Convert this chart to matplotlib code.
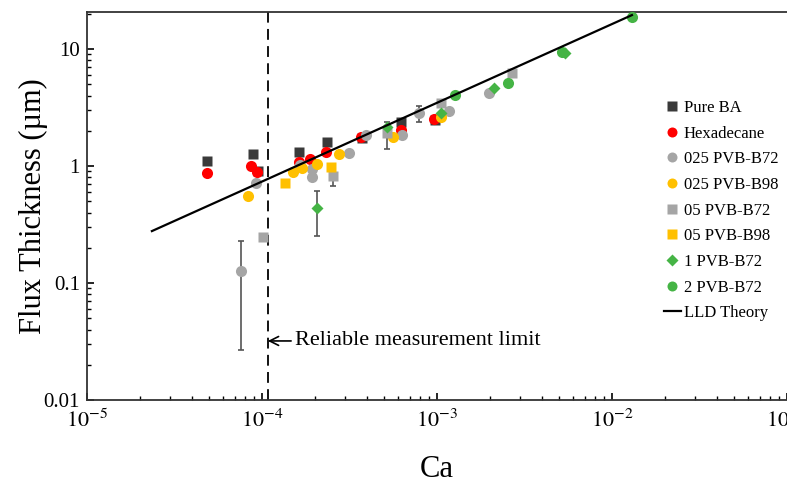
import matplotlib
matplotlib.use("Agg")
import matplotlib.pyplot as plt
from matplotlib.ticker import FixedLocator, FuncFormatter, LogLocator, NullFormatter
import numpy as np

plt.rcParams['font.family'] = ['Liberation Serif', 'DejaVu Serif']
plt.rcParams['mathtext.fontset'] = 'stix'

# ---- data ----
pure_ba_ca = [4.85e-5, 8.9e-5, 9.5e-5, 1.63e-4, 2.34e-4, 3.75e-4, 6.2e-4, 9.7e-4]
pure_ba_h = [1.10, 1.27, 0.90, 1.32, 1.61, 1.72, 2.39, 2.48]

hexa_ca = [4.85e-5, 8.7e-5, 9.4e-5, 1.63e-4, 1.88e-4, 2.32e-4, 3.7e-4, 6.2e-4, 9.66e-4]
hexa_h = [0.87, 1.00, 0.89, 1.09, 1.14, 1.32, 1.76, 2.03, 2.51]

g025_b72_ca = [7.58e-5, 9.2e-5, 1.65e-4, 1.94e-4, 1.94e-4, 3.14e-4, 3.93e-4, 6.3e-4, 7.9e-4, 1.17e-3, 1.99e-3]
g025_b72_h = [0.127, 0.71, 1.02, 0.94, 0.80, 1.28, 1.84, 1.84, 2.82, 2.97, 4.24]
g025_b72_err = [0.10, 0, 0, 0, 0, 0, 0, 0, 0.45, 0, 0]

y025_b98_ca = [8.3e-5, 1.5e-4, 1.69e-4, 2.07e-4, 2.77e-4, 5.6e-4, 1.05e-3]
y025_b98_h = [0.557, 0.89, 0.97, 1.05, 1.26, 1.76, 2.61]

g05_b72_ca = [1.01e-4, 2.56e-4, 5.2e-4, 1.05e-3, 2.67e-3]
g05_b72_h = [0.246, 0.82, 1.90, 3.43, 6.2]
g05_b72_err = [0, 0.15, 0.50, 0, 0]

y05_b98_ca = [1.35e-4, 2.47e-4]
y05_b98_h = [0.72, 0.99]

g1_b72_ca = [2.07e-4, 5.2e-4, 1.05e-3, 2.12e-3, 5.38e-3]
g1_b72_h = [0.434, 2.17, 2.82, 4.61, 9.2]
g1_b72_err = [0.18, 0, 0, 0, 0]

g2_b72_ca = [1.26e-3, 2.53e-3, 5.17e-3, 1.3e-2]
g2_b72_h = [4.05, 5.09, 9.37, 18.9]

lld_ca = [2.35e-5, 1.3e-2]
lld_h = [0.278, 19.5]

limit_ca = 1.08e-4

x_ticks = [1e-5, 1e-4, 1e-3, 1e-2, 1e-1]
y_ticks = [0.01, 0.1, 1, 10]
y_tick_labels = ['0.01', '0.1', '1', '10']

# ---- figure ----
fig = plt.figure(figsize=(7.87, 4.82), dpi=100)
ax = fig.add_axes([0.1105, 0.170, 0.8895, 0.805])
ax.set_xscale('log')
ax.set_yscale('log')
ax.set_xlim(1e-5, 1e-1)
ax.set_ylim(0.01, 20.7)

dark = '#3a3a3a'
red = '#ff0000'
gray = '#a5a5a5'
yellow = '#ffc000'
green = '#45b445'
errc = '#555555'

def errs(ca, h, e):
    idx = [i for i, v in enumerate(e) if v > 0]
    if idx:
        ax.errorbar([ca[i] for i in idx], [h[i] for i in idx], yerr=[e[i] for i in idx],
                    fmt='none', ecolor=errc, elinewidth=1.2, capsize=2.5, capthick=1.2, zorder=2)

errs(g025_b72_ca, g025_b72_h, g025_b72_err)
errs(g05_b72_ca, g05_b72_h, g05_b72_err)
errs(g1_b72_ca, g1_b72_h, g1_b72_err)

ms = 8
ax.plot(pure_ba_ca, pure_ba_h, 's', color=dark, ms=ms - 0.5, mec='none', label='Pure BA', zorder=3)
ax.plot(hexa_ca, hexa_h, 'o', color=red, ms=ms, mec='none', label='Hexadecane', zorder=3)
ax.plot(g025_b72_ca, g025_b72_h, 'o', color=gray, ms=ms, mec='none', label='025 PVB-B72', zorder=3)
ax.plot(y025_b98_ca, y025_b98_h, 'o', color=yellow, ms=ms, mec='none', label='025 PVB-B98', zorder=3)
ax.plot(g05_b72_ca, g05_b72_h, 's', color=gray, ms=ms - 0.5, mec='none', label='05 PVB-B72', zorder=3)
ax.plot(y05_b98_ca, y05_b98_h, 's', color=yellow, ms=ms - 0.5, mec='none', label='05 PVB-B98', zorder=3)
ax.plot(g1_b72_ca, g1_b72_h, 'D', color=green, ms=ms - 1.5, mec='none', label='1 PVB-B72', zorder=3)
ax.plot(g2_b72_ca, g2_b72_h, 'o', color=green, ms=ms, mec='none', label='2 PVB-B72', zorder=3)
ax.plot(lld_ca, lld_h, '-', color='black', lw=1.6, label='LLD Theory', zorder=4)

ax.axvline(limit_ca, color='black', lw=1.3, ls=(0, (6, 3.5)), zorder=1)
ax.annotate('Reliable measurement limit', xy=(limit_ca, 0.032), xytext=(1.55e-4, 0.032),
            fontsize=16, va='center', ha='left',
            arrowprops=dict(arrowstyle='->', color='black', lw=1.2, shrinkA=1, shrinkB=0))

# ticks
ax.xaxis.set_major_locator(FixedLocator(x_ticks))
ax.xaxis.set_minor_locator(LogLocator(base=10, subs=np.arange(2, 10)))
ax.xaxis.set_minor_formatter(NullFormatter())
ax.xaxis.set_major_formatter(FuncFormatter(lambda v, p: r'$10^{%d}$' % round(np.log10(v))))
ax.yaxis.set_major_locator(FixedLocator(y_ticks))
ax.yaxis.set_major_formatter(FuncFormatter(lambda v, p: y_tick_labels[y_ticks.index(v)] if v in y_ticks else ''))
ax.yaxis.set_minor_locator(LogLocator(base=10, subs=np.arange(2, 10)))
ax.yaxis.set_minor_formatter(NullFormatter())
ax.tick_params(which='major', direction='in', length=5, width=1.2, labelsize=15)
ax.tick_params(which='minor', direction='in', length=3, width=1.0)
ax.tick_params(axis='x', which='major', labelsize=16, pad=7)
ax.tick_params(axis='y', which='major', pad=5)

for s in ['left', 'bottom', 'top']:
    ax.spines[s].set_linewidth(1.3)
    ax.spines[s].set_color('#333333')
ax.spines['right'].set_visible(False)

ax.set_xlabel('Ca', fontsize=22, labelpad=16)
ax.set_ylabel('Flux Thickness (µm)', fontsize=22, labelpad=-3)

leg = ax.legend(loc='upper left', bbox_to_anchor=(0.833, 0.81), bbox_transform=fig.transFigure,
                frameon=False, fontsize=12, handlelength=1.0, handletextpad=0.2,
                labelspacing=0.58, borderpad=0, markerscale=0.9)

fig.savefig('out.png', dpi=100)
